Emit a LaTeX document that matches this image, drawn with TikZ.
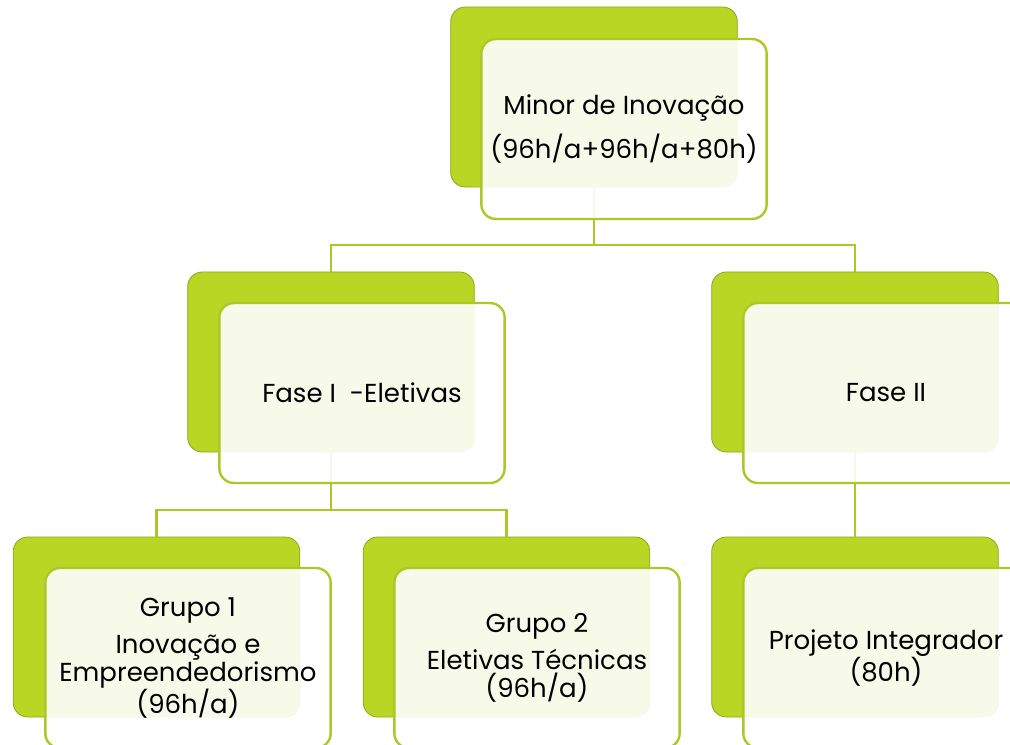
\documentclass[tikz,border=0pt]{standalone}
\usepackage{fontspec}
\setmainfont{Poppins}
\usetikzlibrary{positioning}
\definecolor{leafgreen}{RGB}{186,214,36}
\definecolor{leafdark}{RGB}{140,166,26}
\definecolor{linkgreen}{RGB}{172,200,40}
\tikzset{backbox/.style = {fill=leafgreen, draw=leafdark, line width=0.6pt, rounded corners=11pt,
                           minimum width=215pt, minimum height=135pt, inner sep=0}}
\tikzset{frontbox/.style = {fill=white, fill opacity=0.9, text opacity=1, draw=linkgreen, line width=1.8pt,
                            rounded corners=11pt, minimum width=214pt, minimum height=135pt,
                            align=center, font=\fontsize{19.5}{21}\selectfont, text=black}}
\tikzset{link/.style = {draw=linkgreen, line width=2pt}}

\begin{document}
\begin{tikzpicture}[x=0.75pt, y=-0.75pt]
    \useasboundingbox (0, 0) rectangle (1010, 745);
    \begin{scope}
    \clip (0, 0) rectangle (1010, 745);

    % back boxes
    \node [backbox] (minorback) at (594, 97) {};
    \node [backbox] (faseIback) at (331, 362) {};
    \node [backbox] (faseIIback) at (855, 362) {};
    \node [backbox] (grupoumback) at (156.5, 627) {};
    \node [backbox] (grupodoisback) at (506.5, 627) {};
    \node [backbox] (projetoback) at (855, 627) {};

    % connectors
    \coordinate (topsplit) at (594, 245);
    \coordinate (leftsplit) at (331, 510);
    \draw [link] (minorback.south) -- (topsplit) -| (faseIback.north);
    \draw [link] (topsplit) -| (faseIIback.north);
    \draw [link] (faseIback.south) -- (leftsplit) -| (grupoumback.north);
    \draw [link] (leftsplit) -| (grupodoisback.north);
    \draw [link] (faseIIback.south) -- (projetoback.north);

    % front boxes
    \node [frontbox] (minor) at (624, 129) {Minor de Inovação\\[8pt](96h/a+96h/a+80h)};
    \node [frontbox] (faseI) at (362, 393) {Fase I \ -Eletivas};
    \node [frontbox] (faseII) at (886, 393) {Fase II};
    \node [frontbox] (grupoum) at (188, 658) {Grupo 1\\[7pt]Inovação e\\Empreendedorismo\\(96h/a)};
    \node [frontbox] (grupodois) at (537, 658) {Grupo 2\\[7pt]Eletivas Técnicas\\(96h/a)};
    \node [frontbox] (projeto) at (886, 658) {Projeto Integrador\\(80h)};
    \end{scope}
  \end{tikzpicture}
\end{document}
